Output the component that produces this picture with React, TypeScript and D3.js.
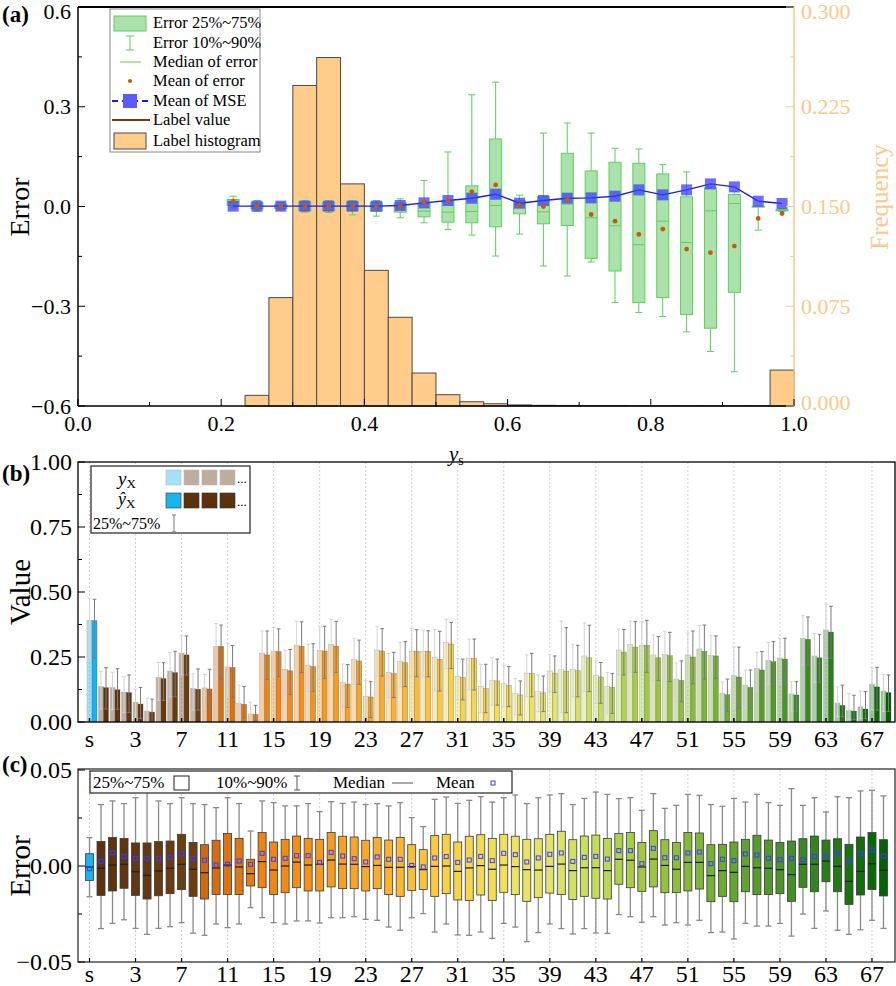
import React from 'react';
import * as d3 from 'd3';

// ---------- panel (a): error vs label value ----------
const binCenters = [0.2167, 0.25, 0.2833, 0.3167, 0.35, 0.3833, 0.4167, 0.45, 0.4833, 0.5167, 0.55, 0.5833,
  0.6167, 0.65, 0.6833, 0.7167, 0.75, 0.7833, 0.8167, 0.85, 0.8833, 0.9167, 0.95, 0.9833];
const labelHist = [0, 0.008, 0.0815, 0.241, 0.262, 0.167, 0.102, 0.0667, 0.0248, 0.0085, 0.0032, 0.0017,
  0.0008, 0.0005, 0.0004, 0.0003, 0.0003, 0.0002, 0.0002, 0.0002, 0.0002, 0.0002, 0.0002, 0.027];
const errP90 = [0.031, 0.018, 0.012, 0.018, 0.018, 0.018, 0.018, 0.023, 0.078, 0.164, 0.336, 0.374,
  0.034, 0.221, 0.251, 0.221, 0.175, 0.173, 0.126, 0.104, 0.06, 0.046, 0.001, -0.007];
const errQ3 = [0.021, 0.011, 0.007, 0.014, 0.013, 0.014, 0.013, 0.011, 0.009, 0.016, 0.062, 0.203,
  0.017, 0.029, 0.16, 0.107, 0.133, 0.13, 0.098, 0.029, 0.056, 0.036, 0.001, -0.009];
const errMedian = [0.012, 0.001, 0, 0, 0, 0.001, -0.002, -0.004, -0.014, -0.017, -0.015, 0.003,
  0.006, -0.016, 0.007, -0.034, -0.058, -0.115, -0.044, -0.108, -0.013, 0.009, 0, -0.011];
const errQ1 = [0.003, -0.007, -0.006, -0.012, -0.012, -0.012, -0.014, -0.017, -0.031, -0.047, -0.049, -0.061,
  -0.022, -0.052, -0.057, -0.156, -0.194, -0.289, -0.274, -0.325, -0.366, -0.258, -0.001, -0.013];
const errP10 = [-0.004, -0.014, -0.01, -0.017, -0.018, -0.025, -0.029, -0.034, -0.049, -0.069, -0.086, -0.149,
  -0.083, -0.179, -0.209, -0.167, -0.289, -0.319, -0.331, -0.377, -0.436, -0.497, -0.071, -0.015];
const errMean = [0.016, 0.001, 0, 0, 0, 0, -0.001, 0, 0.013, 0.018, 0.045, 0.065,
  0.003, 0, 0.021, -0.024, -0.044, -0.084, -0.068, -0.128, -0.139, -0.119, -0.036, -0.021];
const mseMean = [0.001, 0.001, 0.001, 0.001, 0.001, 0.001, 0.001, 0.003, 0.011, 0.018, 0.025, 0.037,
  0.01, 0.018, 0.025, 0.026, 0.031, 0.05, 0.035, 0.05, 0.068, 0.059, 0.016, 0.009];
const errTicks = [-0.6, -0.3, 0, 0.3, 0.6];
const freqTicks = [0, 0.075, 0.15, 0.225, 0.3];
const ysTicks = [0, 0.2, 0.4, 0.6, 0.8, 1.0];

// ---------- panel (b) & (c): per feature ----------
const features = ['s', '0', '1', '2', '3', '4', '5', '6', '7', '8', '9', '10', '11', '12', '13', '14', '15', '16', '17',
  '18', '19', '20', '21', '22', '23', '24', '25', '26', '27', '28', '29', '30', '31', '32', '33', '34', '35', '36', '37',
  '38', '39', '40', '41', '42', '43', '44', '45', '46', '47', '48', '49', '50', '51', '52', '53', '54', '55', '56', '57',
  '58', '59', '60', '61', '62', '63', '64', '65', '66', '67', '68'];
const featureTicks = ['s', '3', '7', '11', '15', '19', '23', '27', '31', '35', '39', '43', '47', '51', '55', '59', '63', '67'];

const trueMean = [0.39, 0.137, 0.132, 0.115, 0.076, 0.042, 0.172, 0.196, 0.265, 0.129, 0.131, 0.291, 0.212, 0.071,
  0.031, 0.265, 0.273, 0.203, 0.296, 0.219, 0.276, 0.299, 0.153, 0.24, 0.099, 0.277, 0.191, 0.233, 0.272, 0.272,
  0.249, 0.306, 0.176, 0.244, 0.137, 0.16, 0.147, 0.109, 0.188, 0.117, 0.196, 0.201, 0.201, 0.254, 0.178, 0.137,
  0.277, 0.299, 0.296, 0.258, 0.259, 0.165, 0.258, 0.281, 0.255, 0.11, 0.178, 0.142, 0.206, 0.237, 0.246, 0.108,
  0.322, 0.254, 0.354, 0.073, 0.044, 0.058, 0.145, 0.119];
const predMean = [0.39, 0.132, 0.124, 0.113, 0.069, 0.038, 0.167, 0.19, 0.258, 0.126, 0.127, 0.291, 0.21, 0.068,
  0.029, 0.258, 0.271, 0.197, 0.291, 0.213, 0.273, 0.292, 0.146, 0.235, 0.096, 0.273, 0.186, 0.228, 0.272, 0.272,
  0.241, 0.3, 0.171, 0.244, 0.128, 0.158, 0.14, 0.104, 0.186, 0.112, 0.188, 0.196, 0.197, 0.247, 0.173, 0.133,
  0.269, 0.288, 0.295, 0.247, 0.255, 0.16, 0.25, 0.272, 0.254, 0.105, 0.173, 0.133, 0.2, 0.232, 0.242, 0.104,
  0.318, 0.247, 0.346, 0.064, 0.042, 0.05, 0.135, 0.113];
const trueQ3 = [0.476, 0.194, 0.191, 0.174, 0.126, 0.091, 0.229, 0.268, 0.331, 0.185, 0.183, 0.379, 0.303, 0.142,
  0.076, 0.35, 0.363, 0.276, 0.388, 0.299, 0.368, 0.395, 0.223, 0.322, 0.159, 0.367, 0.264, 0.305, 0.36, 0.354,
  0.356, 0.395, 0.245, 0.319, 0.222, 0.247, 0.219, 0.167, 0.258, 0.181, 0.26, 0.388, 0.299, 0.381, 0.235, 0.19,
  0.358, 0.388, 0.386, 0.335, 0.349, 0.227, 0.342, 0.371, 0.332, 0.154, 0.288, 0.2, 0.268, 0.306, 0.322, 0.155,
  0.409, 0.34, 0.453, 0.135, 0.11, 0.119, 0.209, 0.183];
const predQ3 = [0.472, 0.209, 0.205, 0.181, 0.133, 0.088, 0.228, 0.272, 0.331, 0.204, 0.203, 0.373, 0.294, 0.137,
  0.064, 0.35, 0.358, 0.279, 0.385, 0.301, 0.368, 0.387, 0.221, 0.315, 0.155, 0.359, 0.268, 0.309, 0.355, 0.351,
  0.349, 0.383, 0.242, 0.319, 0.222, 0.242, 0.213, 0.158, 0.264, 0.177, 0.254, 0.363, 0.295, 0.372, 0.229, 0.187,
  0.356, 0.386, 0.391, 0.329, 0.345, 0.235, 0.35, 0.373, 0.331, 0.165, 0.288, 0.2, 0.271, 0.309, 0.322, 0.155,
  0.404, 0.337, 0.445, 0.142, 0.103, 0.117, 0.21, 0.181];
const valueQ1 = [0.245, 0.05, 0.049, 0.037, 0.014, 0.001, 0.083, 0.097, 0.181, 0.046, 0.05, 0.164, 0.094, 0.017,
  0.004, 0.164, 0.174, 0.106, 0.191, 0.117, 0.168, 0.191, 0.056, 0.145, 0.017, 0.177, 0.094, 0.136, 0.174, 0.174,
  0.119, 0.206, 0.085, 0.123, 0.036, 0.065, 0.059, 0.027, 0.097, 0.04, 0.114, 0.036, 0.097, 0.117, 0.072, 0.033,
  0.181, 0.191, 0.191, 0.16, 0.155, 0.078, 0.147, 0.165, 0.168, 0.04, 0.053, 0.053, 0.117, 0.145, 0.146, 0.042,
  0.219, 0.153, 0.245, 0.021, 0.01, 0.014, 0.046, 0.04];

const cP90 = [0.0148, 0.032, 0.0339, 0.0325, 0.0356, 0.0477, 0.0339, 0.0325, 0.0356, 0.0325, 0.032, 0.0304, 0.0356,
  0.0325, 0.0182, 0.0339, 0.033, 0.0313, 0.0313, 0.0325, 0.0283, 0.0335, 0.0326, 0.0333, 0.032, 0.0325, 0.0313, 0.033,
  0.0252, 0.0205, 0.0347, 0.0359, 0.0326, 0.0342, 0.0361, 0.0333, 0.0356, 0.037, 0.0325, 0.0356, 0.037, 0.0377, 0.032,
  0.0352, 0.0385, 0.0373, 0.0351, 0.0356, 0.029, 0.0377, 0.03, 0.0316, 0.0373, 0.0368, 0.032, 0.0311, 0.0352, 0.0333,
  0.0373, 0.033, 0.0316, 0.0403, 0.0316, 0.0356, 0.0281, 0.0361, 0.0356, 0.0391, 0.0394, 0.0365];
const cQ3 = [0.0064, 0.0128, 0.0148, 0.0144, 0.012, 0.012, 0.0127, 0.013, 0.0165, 0.0123, 0.0111, 0.0134, 0.017,
  0.0144, 0.0035, 0.0174, 0.0125, 0.0139, 0.0156, 0.0144, 0.0139, 0.0174, 0.0155, 0.0151, 0.0134, 0.0148, 0.0135,
  0.0148, 0.0111, 0.0085, 0.0158, 0.0165, 0.0125, 0.0155, 0.0163, 0.0144, 0.0165, 0.0155, 0.0139, 0.0142, 0.0165,
  0.0181, 0.0137, 0.0156, 0.0161, 0.0144, 0.017, 0.0174, 0.0123, 0.0184, 0.0137, 0.0123, 0.0175, 0.0172, 0.0111,
  0.0113, 0.0125, 0.0139, 0.016, 0.0135, 0.0123, 0.013, 0.0142, 0.0156, 0.0135, 0.0142, 0.0113, 0.0151, 0.0174, 0.0137];
const cMedian = [-0.0005, -0.0012, 0.0005, 0.0009, -0.003, -0.0049, -0.0026, -0.0012, 0.0009, -0.0017, -0.0035,
  -0.001, 0.0005, -0.0005, -0.004, 0.0023, -0.0021, 0, 0.002, 0.0005, 0.0009, 0.0031, 0.001, 0.0009, -0.0003, 0.0003,
  -0.0007, -0.0007, -0.0003, -0.0019, -0.0002, 0, -0.0028, -0.001, 0.0002, -0.0017, 0.0005, -0.0003, -0.0019, -0.0021,
  -0.0002, 0.001, -0.0024, -0.0009, -0.0009, -0.0024, 0.0035, 0.003, -0.0005, 0.0036, 0.0003, -0.0017, 0.0019, 0.0019,
  -0.005, -0.0024, -0.0033, -0.0002, -0.0009, -0.0012, -0.0019, -0.0045, 0.0009, 0.0009, 0.0026, -0.0002, -0.008,
  -0.0028, 0.0012, -0.0023];
const cQ1 = [-0.0075, -0.0153, -0.013, -0.0116, -0.0153, -0.0172, -0.0155, -0.0144, -0.0123, -0.0158, -0.0172, -0.0148,
  -0.0149, -0.0149, -0.0104, -0.0113, -0.0148, -0.0139, -0.0113, -0.013, -0.013, -0.0109, -0.0118, -0.0118, -0.013,
  -0.0118, -0.0149, -0.0158, -0.0127, -0.0122, -0.0158, -0.0144, -0.0177, -0.0179, -0.0151, -0.0179, -0.0137, -0.0149,
  -0.0184, -0.0165, -0.0141, -0.0149, -0.0175, -0.0158, -0.0168, -0.0172, -0.0095, -0.0113, -0.0132, -0.0109, -0.0139,
  -0.0139, -0.013, -0.012, -0.0186, -0.0158, -0.0186, -0.0134, -0.0149, -0.0149, -0.0144, -0.0184, -0.0111, -0.0134,
  -0.0082, -0.0134, -0.02, -0.0151, -0.0122, -0.0156];
const cP10 = [-0.016, -0.0326, -0.0299, -0.028, -0.0325, -0.0356, -0.0325, -0.0316, -0.0295, -0.035, -0.0361, -0.0302,
  -0.0321, -0.0302, -0.0217, -0.0269, -0.0295, -0.0302, -0.0286, -0.0286, -0.0297, -0.0269, -0.0269, -0.0264, -0.0278,
  -0.0283, -0.0318, -0.0335, -0.0269, -0.0248, -0.0344, -0.0302, -0.0359, -0.0361, -0.0344, -0.0377, -0.0299, -0.0318,
  -0.0394, -0.0347, -0.0302, -0.0326, -0.0354, -0.0326, -0.0349, -0.0351, -0.0253, -0.0264, -0.0293, -0.0264, -0.0307,
  -0.0295, -0.0307, -0.0283, -0.0347, -0.0344, -0.038, -0.0299, -0.0313, -0.0313, -0.0299, -0.0365, -0.025, -0.0325,
  -0.0234, -0.0335, -0.0356, -0.0332, -0.0283, -0.0325];
const cMean = [-0.0014, 0.0024, 0.0069, 0.0049, 0.004, 0.004, 0.0038, 0.0045, 0.0064, 0.004, 0.003, 0.0005, 0.0009,
  0.0026, 0.0009, 0.0066, 0.0035, 0.004, 0.0054, 0.0054, 0.0019, 0.0071, 0.0052, 0.0038, 0.0021, 0.0047, 0.0035,
  0.0035, 0.0003, -0.0005, 0.0042, 0.0049, 0.0019, 0.0031, 0.005, 0.0028, 0.0066, 0.0059, 0.0021, 0.0042, 0.0061,
  0.0068, 0.0024, 0.0045, 0.005, 0.0036, 0.008, 0.008, 0.0012, 0.0092, 0.0043, 0.0043, 0.0068, 0.0073, 0.0012, 0.0035,
  0.0028, 0.0063, 0.0057, 0.004, 0.0033, 0.004, 0.0033, 0.0049, 0.005, 0.0066, 0.0026, 0.0064, 0.0083, 0.0052];

const serif = '"Liberation Serif", "Times New Roman", serif';
const ORANGE = '#fbc98b';

// feature colour ramp (brown -> orange -> yellow -> green)
const rampIdx = [1, 9, 10, 15, 21, 27, 31, 36, 40, 44, 47, 52, 56, 60, 64, 69];
const rampCol = ['#5c320e', '#6e3e10', '#cc6a10', '#ee8214', '#f59c20', '#fbb632', '#f8d044', '#f2e05a', '#e0e46a',
  '#c4dc5c', '#a8cc46', '#86ba3a', '#66a630', '#4a9428', '#2a7e1a', '#006400'];
const ramp = d3.scaleLinear<string>().domain(rampIdx).range(rampCol).interpolate(d3.interpolateRgb).clamp(true);
const featColor = (i: number) => (i === 0 ? '#18b4f0' : ramp(i));

const PanelA = () => {
  const x = d3.scaleLinear().domain([0, 1]).range([78, 794]);
  const y = d3.scaleLinear().domain([-0.6, 0.6]).range([406, 7]);
  const yf = d3.scaleLinear().domain([0, 0.3]).range([406, 7]);
  const half = 1 / 60;
  const bw = 6;
  const green = '#5ccf5c';
  const mseLine = d3
    .line<number>()
    .x((_, i) => x(binCenters[i]))
    .y((d) => y(d));
  return (
    <g fontFamily={serif}>
      {/* histogram */}
      {labelHist.map((v, i) =>
        v > 0 ? (
          <rect key={'h' + i} x={x(binCenters[i] - half)} y={yf(v)} width={x(binCenters[i] + half) - x(binCenters[i] - half)}
            height={406 - yf(v)} fill="#ffcc8c" stroke="#4a4a4a" strokeWidth={1} />
        ) : null
      )}
      {/* boxes */}
      {binCenters.map((c, i) => {
        const cx = x(c);
        return (
          <g key={'b' + i} stroke={green} strokeWidth={1}>
            <line x1={cx} x2={cx} y1={y(errP90[i])} y2={y(errQ3[i])} />
            <line x1={cx} x2={cx} y1={y(errQ1[i])} y2={y(errP10[i])} />
            <line x1={cx - 3.5} x2={cx + 3.5} y1={y(errP90[i])} y2={y(errP90[i])} />
            <line x1={cx - 3.5} x2={cx + 3.5} y1={y(errP10[i])} y2={y(errP10[i])} />
            <rect x={cx - bw} y={y(errQ3[i])} width={bw * 2} height={Math.max(1, y(errQ1[i]) - y(errQ3[i]))}
              fill="#8fd88f" fillOpacity={0.75} />
            <line x1={cx - bw} x2={cx + bw} y1={y(errMedian[i])} y2={y(errMedian[i])} />
          </g>
        );
      })}
      <path d={mseLine(mseMean) || ''} fill="none" stroke="#1a1aff" strokeWidth={1.4} />
      {mseMean.map((v, i) => (
        <rect key={'m' + i} x={x(binCenters[i]) - 5.5} y={y(v) - 5.5} width={11} height={11} fill="#3c3cff" fillOpacity={0.75} />
      ))}
      {errMean.map((v, i) => (
        <circle key={'e' + i} cx={x(binCenters[i])} cy={y(v)} r={2.4} fill="#c85a00" />
      ))}
      {/* axes */}
      <line x1={78} x2={794} y1={7} y2={7} stroke="#000" strokeWidth={2} />
      <line x1={78} x2={794} y1={406} y2={406} stroke="#000" strokeWidth={1.5} />
      <line x1={78} x2={78} y1={7} y2={406} stroke="#000" strokeWidth={1.5} />
      <line x1={794} x2={794} y1={7} y2={406} stroke={ORANGE} strokeWidth={1.5} />
      {errTicks.map((t) => (
        <g key={'yt' + t}>
          <line x1={78} x2={85} y1={y(t)} y2={y(t)} stroke="#000" />
          <text x={71} y={Math.max(y(t), 11)} dy="0.35em" textAnchor="end" fontSize={22}>{d3.format('.1f')(t).replace('-', '\u2212')}</text>
        </g>
      ))}
      {[-0.45, -0.15, 0.15, 0.45].map((t) => (
        <line key={'ym' + t} x1={78} x2={82} y1={y(t)} y2={y(t)} stroke="#000" />
      ))}
      {ysTicks.map((t) => (
        <g key={'xt' + t}>
          <line x1={x(t)} x2={x(t)} y1={406} y2={399} stroke="#000" />
          <text x={x(t)} y={431} textAnchor="middle" fontSize={22}>{d3.format('.1f')(t)}</text>
        </g>
      ))}
      {[0.1, 0.3, 0.5, 0.7, 0.9].map((t) => (
        <line key={'xm' + t} x1={x(t)} x2={x(t)} y1={406} y2={402} stroke="#000" />
      ))}
      {freqTicks.map((t) => (
        <g key={'ft' + t}>
          <line x1={794} x2={786} y1={yf(t)} y2={yf(t)} stroke={ORANGE} />
          <text x={801} y={Math.min(Math.max(yf(t), 11), 402)} dy="0.35em" fontSize={22} fill={ORANGE}>{d3.format('.3f')(t)}</text>
        </g>
      ))}
      {[0.0375, 0.1125, 0.1875, 0.2625].map((t) => (
        <line key={'fm' + t} x1={794} x2={790} y1={yf(t)} y2={yf(t)} stroke={ORANGE} />
      ))}
      <text transform="translate(29,207) rotate(-90)" textAnchor="middle" fontSize={28}>Error</text>
      <text transform="translate(888,197) rotate(-90)" textAnchor="middle" fontSize={25} fill={ORANGE}>Frequency</text>
      <text x={449} y={461} fontSize={21}>
        <tspan fontStyle="italic">y</tspan>
        <tspan dy={4} fontSize={14}>s</tspan>
      </text>
      <text x={2} y={22} fontSize={23} fontWeight="bold">(a)</text>
      {/* legend */}
      <rect x={110} y={9} width={150} height={143} fill="#fff" stroke="#888" />
      <g fontSize={16.5}>
        <rect x={114} y={16} width={32} height={15} fill="#8fd88f" fillOpacity={0.75} stroke={green} />
        <text x={153} y={28}>Error 25%~75%</text>
        <g stroke={green}>
          <line x1={130} x2={130} y1={36} y2={50} />
          <line x1={126} x2={134} y1={36} y2={36} />
          <line x1={126} x2={134} y1={50} y2={50} />
        </g>
        <text x={153} y={48}>Error 10%~90%</text>
        <line x1={120} x2={141} y1={62} y2={62} stroke={green} />
        <text x={153} y={67}>Median of error</text>
        <circle cx={130} cy={81} r={2} fill="#c85a00" />
        <text x={153} y={86}>Mean of error</text>
        <line x1={112} x2={150} y1={101} y2={101} stroke="#1a1aff" strokeWidth={2} strokeDasharray="6,4" />
        <rect x={123} y={94} width={14} height={14} fill="#5a5aff" />
        <text x={153} y={106}>Mean of MSE</text>
        <line x1={112} x2={150} y1={120} y2={120} stroke="#7b3c0c" strokeWidth={2} />
        <text x={153} y={125}>Label value</text>
        <rect x={114} y={133} width={32} height={16} fill="#ffcc8c" stroke="#4a4a4a" />
        <text x={153} y={146}>Label histogram</text>
      </g>
    </g>
  );
};

const xFeat = () => d3.scalePoint<string>().domain(features).range([78, 895]).padding(1);

const PanelB = () => {
  const x = xFeat();
  const y = d3.scaleLinear().domain([0, 1]).range([722, 462]);
  const w = 5;
  return (
    <g fontFamily={serif}>
      {featureTicks.map((f) => (
        <line key={'g' + f} x1={x(f)} x2={x(f)} y1={462} y2={722} stroke="#c8c8c8" strokeDasharray="2,2" strokeWidth={0.8} />
      ))}
      {features.map((f, i) => {
        const cx = x(f) as number;
        const col = featColor(i);
        const lx = cx;
        const dx = cx + w;
        return (
          <g key={'bar' + i}>
            <rect x={lx - w / 2} y={y(trueMean[i])} width={w} height={722 - y(trueMean[i])} fill={col} fillOpacity={0.4}
              stroke="#b0b0b0" strokeWidth={0.5} />
            <rect x={dx - w / 2} y={y(predMean[i])} width={w} height={722 - y(predMean[i])} fill={col}
              stroke="#333" strokeOpacity={0.5} strokeWidth={0.5} />
            <g stroke="#d4d4d4" strokeWidth={1}>
              <line x1={lx} x2={lx} y1={y(trueQ3[i])} y2={y(valueQ1[i])} />
              <line x1={lx - 1.8} x2={lx + 1.8} y1={y(trueQ3[i])} y2={y(trueQ3[i])} />
              <line x1={lx - 1.8} x2={lx + 1.8} y1={y(valueQ1[i])} y2={y(valueQ1[i])} />
            </g>
            <g stroke="#7a7a7a" strokeWidth={1}>
              <line x1={dx} x2={dx} y1={y(predQ3[i])} y2={y(valueQ1[i])} />
              <line x1={dx - 1.8} x2={dx + 1.8} y1={y(predQ3[i])} y2={y(predQ3[i])} />
              <line x1={dx - 1.8} x2={dx + 1.8} y1={y(valueQ1[i])} y2={y(valueQ1[i])} />
            </g>
          </g>
        );
      })}
      <rect x={78} y={462} width={817} height={260} fill="none" stroke="#000" strokeWidth={1.3} />
      {[0, 0.25, 0.5, 0.75, 1].map((t) => (
        <g key={'by' + t}>
          <line x1={78} x2={85} y1={y(t)} y2={y(t)} stroke="#000" />
          <text x={72} y={y(t)} dy="0.35em" textAnchor="end" fontSize={24}>{d3.format('.2f')(t)}</text>
        </g>
      ))}
      {[0.125, 0.375, 0.625, 0.875].map((t) => (
        <line key={'bym' + t} x1={78} x2={82} y1={y(t)} y2={y(t)} stroke="#000" />
      ))}
      {featureTicks.map((f) => (
        <g key={'bx' + f}>
          <line x1={x(f)} x2={x(f)} y1={722} y2={718} stroke="#000" strokeWidth={1.5} />
          <text x={x(f)} y={747} textAnchor="middle" fontSize={24}>{f}</text>
        </g>
      ))}
      <text transform="translate(30,592) rotate(-90)" textAnchor="middle" fontSize={29}>Value</text>
      <text x={2} y={481} fontSize={23} fontWeight="bold">(b)</text>
      {/* legend */}
      <rect x={91} y={466} width={159} height={67} fill="#fff" stroke="#333" strokeWidth={1.3} />
      <text x={118} y={485} fontSize={19}>
        <tspan fontStyle="italic">y</tspan>
        <tspan dy={3} fontSize={13}>X</tspan>
      </text>
      <text x={118} y={505} fontSize={18}>
        <tspan fontStyle="italic">{'\u0177'}</tspan>
        <tspan dy={3} fontSize={13}>X</tspan>
      </text>
      {[0, 1, 2, 3].map((k) => (
        <g key={'lg' + k}>
          <rect x={166 + k * 18} y={470} width={15} height={15} fill={k === 0 ? '#18b4f0' : ramp(1)} fillOpacity={0.4}
            stroke="#bbb" strokeWidth={0.6} />
          <rect x={166 + k * 18} y={493} width={15} height={15} fill={k === 0 ? '#18b4f0' : ramp(1)}
            stroke="#333" strokeWidth={0.6} />
        </g>
      ))}
      <text x={237} y={483} fontSize={13}>...</text>
      <text x={237} y={506} fontSize={13}>...</text>
      <text x={93} y={529} fontSize={16}>25%~75%</text>
      <g stroke="#7a7a7a">
        <line x1={174} x2={174} y1={515} y2={532} />
        <line x1={172} x2={176} y1={515} y2={515} />
        <line x1={172} x2={176} y1={532} y2={532} />
      </g>
    </g>
  );
};

const PanelC = () => {
  const x = xFeat();
  const y = d3.scaleLinear().domain([-0.05, 0.05]).range([962, 770]);
  const bw = 4;
  return (
    <g fontFamily={serif}>
      {featureTicks.map((f) => (
        <line key={'g' + f} x1={x(f)} x2={x(f)} y1={770} y2={962} stroke="#c8c8c8" strokeDasharray="2,2" strokeWidth={0.8} />
      ))}
      {features.map((f, i) => {
        const cx = x(f) as number;
        return (
          <g key={'c' + i}>
            <g stroke="#8a8a8a" strokeWidth={1.3}>
              <line x1={cx} x2={cx} y1={y(cP90[i])} y2={y(cQ3[i])} />
              <line x1={cx} x2={cx} y1={y(cQ1[i])} y2={y(cP10[i])} />
              <line x1={cx - 3} x2={cx + 3} y1={y(cP90[i])} y2={y(cP90[i])} />
              <line x1={cx - 3} x2={cx + 3} y1={y(cP10[i])} y2={y(cP10[i])} />
            </g>
            <rect x={cx - bw} y={y(cQ3[i])} width={bw * 2} height={y(cQ1[i]) - y(cQ3[i])} fill={featColor(i)}
              stroke="#3a3a3a" strokeWidth={0.8} />
            <line x1={cx - bw} x2={cx + bw} y1={y(cMedian[i])} y2={y(cMedian[i])} stroke="#1e1e1e" strokeWidth={1.2} />
            <rect x={cx - 2} y={y(cMean[i]) - 2} width={4} height={4} fill="none" stroke="#3a3aff" strokeWidth={1} />
          </g>
        );
      })}
      <rect x={78} y={769} width={817} height={193} fill="none" stroke="#333" strokeWidth={1.3} />
      {[-0.05, 0, 0.05].map((t) => (
        <g key={'cy' + t}>
          <line x1={78} x2={85} y1={y(t)} y2={y(t)} stroke="#000" />
          <text x={72} y={y(t)} dy="0.35em" textAnchor="end" fontSize={24}>{d3.format('.2f')(t).replace('-', '\u2212')}</text>
        </g>
      ))}
      {[-0.025, 0.025].map((t) => (
        <line key={'cym' + t} x1={78} x2={82} y1={y(t)} y2={y(t)} stroke="#000" />
      ))}
      {featureTicks.map((f) => (
        <g key={'cx' + f}>
          <line x1={x(f)} x2={x(f)} y1={962} y2={958} stroke="#000" strokeWidth={1.2} />
          <text x={x(f)} y={982} textAnchor="middle" fontSize={24}>{f}</text>
        </g>
      ))}
      <text transform="translate(30,866) rotate(-90)" textAnchor="middle" fontSize={29}>Error</text>
      <text x={2} y={772} fontSize={23} fontWeight="bold">(c)</text>
      {/* legend */}
      <rect x={90} y={771} width={422} height={22} fill="#fff" stroke="#222" strokeWidth={1.2} />
      <g fontSize={17}>
        <text x={93} y={788}>25%~75%</text>
        <rect x={174} y={776} width={15} height={14} fill="#fff" stroke="#222" />
        <text x={216} y={788}>10%~90%</text>
        <g stroke="#555">
          <line x1={297} x2={297} y1={776} y2={790} />
          <line x1={294} x2={300} y1={776} y2={776} />
          <line x1={294} x2={300} y1={790} y2={790} />
        </g>
        <text x={333} y={788}>Median</text>
        <line x1={392} x2={413} y1={783} y2={783} stroke="#555" />
        <text x={436} y={788}>Mean</text>
        <rect x={491} y={781} width={4} height={4} fill="none" stroke="#3a3aff" />
      </g>
    </g>
  );
};

const App = () => (
  <svg width={896} height={986} style={{ position: 'absolute', left: 0, top: 0, background: '#fff' }}>
    <rect width={896} height={986} fill="#fff" />
    <PanelA />
    <PanelB />
    <PanelC />
  </svg>
);

export default App;
